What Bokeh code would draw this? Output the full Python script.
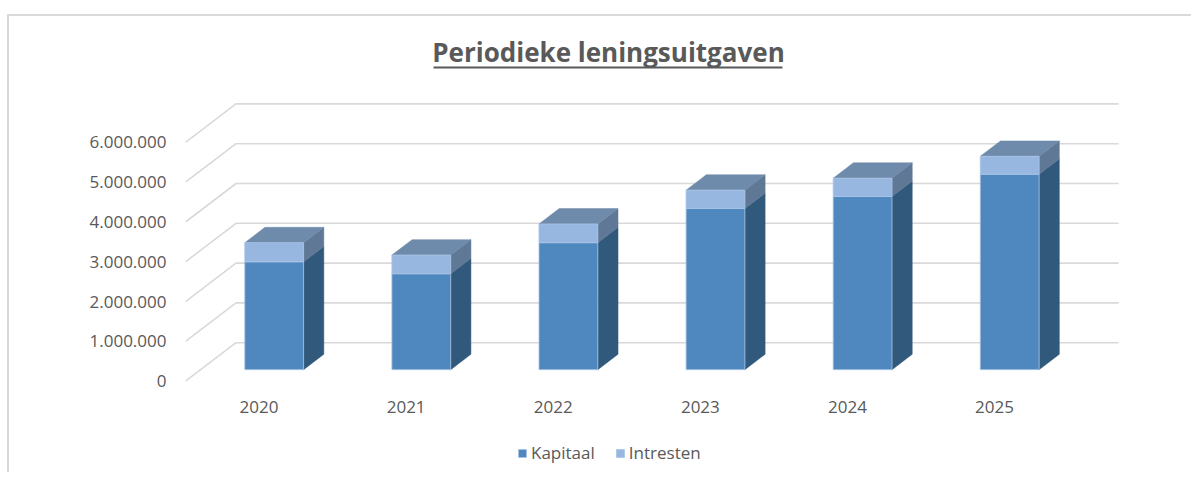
from bokeh.plotting import figure
from bokeh.models import Range1d, FixedTicker, Legend, LegendItem, ColumnDataSource
from bokeh.embed import file_html
from bokeh.resources import INLINE
from bokeh.core.properties import value

# ---------------- data ----------------
years = ["2020", "2021", "2022", "2023", "2024", "2025"]
kapitaal = [2710000, 2410000, 3190000, 4050000, 4350000, 4910000]
intresten = [480000, 470000, 470000, 460000, 460000, 450000]
y_ticks = [0, 1000000, 2000000, 3000000, 4000000, 5000000, 6000000]
series_names = ["Kapitaal", "Intresten"]
title_text = "Periodieke leningsuitgaven"

# ---------------- style ----------------
KAP_FRONT = "#4f88be"
KAP_SIDE = "#30597b"
INT_FRONT = "#97b7e0"
INT_SIDE = "#5f7895"
TOP = "#6f8bab"
EDGE = "#a9c4e6"
GRID = "#d9d9d9"
TEXT = "#595959"
FONT = "Open Sans"

W, H = 1184, 458
FRAME_LEFT = 176
PX_X = 147.1            # px per category slot
PX_Y = 39.8 / 1e6       # px per value unit
ZERO_Y = 364.7          # canvas px of the front zero line
DX = 50.5 / PX_X        # depth offset (x units)
DY = 38.5 / PX_Y        # depth offset (value units)
BAR_W = 0.4
D0, D1 = 0.3, 0.7       # bar depth span (fraction of full depth)

x_end = (W - FRAME_LEFT) / PX_X
y_end = ZERO_Y / PX_Y
y_start = -(H - ZERO_Y) / PX_Y


def cx(px):
    return (px - FRAME_LEFT) / PX_X


def cy(py):
    return (ZERO_Y - py) / PX_Y


p = figure(width=W, height=H, x_range=Range1d(0, x_end), y_range=Range1d(y_start, y_end),
           output_backend="svg", toolbar_location=None, x_axis_location=None,
           min_border_left=FRAME_LEFT, min_border_right=0, min_border_top=0, min_border_bottom=0)
p.outline_line_color = None
p.xgrid.visible = False
p.ygrid.visible = False
p.background_fill_color = "white"
p.border_fill_color = "white"
p.styles = {"margin-top": "14px", "margin-left": "7px",
            "border-top": "2px solid #d9d9d9", "border-left": "2px solid #d9d9d9"}

ax = p.yaxis[0]
ax.ticker = FixedTicker(ticks=y_ticks)
ax.major_label_overrides = {v: f"{v:,}".replace(",", ".") for v in y_ticks}
ax.axis_line_color = None
ax.major_tick_line_color = None
ax.minor_tick_line_color = None
ax.major_tick_out = 0
ax.major_tick_in = 0
ax.major_label_standoff = 19
ax.major_label_text_font = FONT
ax.major_label_text_font_size = "17px"
ax.major_label_text_color = TEXT

n = len(years)

# back wall + side wall gridlines
gx, gy = [], []
for v in y_ticks:
    gx.append([0, DX, n + DX])
    gy.append([v, v + DY, v + DY])
p.multi_line(xs=gx, ys=gy, line_color=GRID, line_width=1.6)

# bars
xl = [i + (1 - BAR_W) / 2 for i in range(n)]
xr = [x + BAR_W for x in xl]
tot = [k + t for k, t in zip(kapitaal, intresten)]
ox0, oy0 = D0 * DX, D0 * DY
ox1, oy1 = D1 * DX, D1 * DY

kap_side_x, kap_side_y, int_side_x, int_side_y, top_x, top_y = [], [], [], [], [], []
for i in range(n):
    a, b = xr[i] + ox0, xr[i] + ox1
    kap_side_x.append([a, b, b, a])
    kap_side_y.append([oy0, oy1, kapitaal[i] + oy1, kapitaal[i] + oy0])
    int_side_x.append([a, b, b, a])
    int_side_y.append([kapitaal[i] + oy0, kapitaal[i] + oy1, tot[i] + oy1, tot[i] + oy0])
    top_x.append([xl[i] + ox0, xr[i] + ox0, xr[i] + ox1, xl[i] + ox1])
    top_y.append([tot[i] + oy0, tot[i] + oy0, tot[i] + oy1, tot[i] + oy1])

p.patches(xs=kap_side_x, ys=kap_side_y, fill_color=KAP_SIDE, line_color=KAP_SIDE, line_width=0.5)
p.patches(xs=int_side_x, ys=int_side_y, fill_color=INT_SIDE, line_color=INT_SIDE, line_width=0.5)
p.patches(xs=top_x, ys=top_y, fill_color=TOP, line_color=TOP, line_width=0.5)

src = ColumnDataSource(dict(
    left=[x + ox0 for x in xl], right=[x + ox0 for x in xr],
    kb=[oy0] * n, kt=[k + oy0 for k in kapitaal],
    it=[t + oy0 for t in tot],
))
r_kap = p.quad(left="left", right="right", bottom="kb", top="kt", source=src,
               fill_color=KAP_FRONT, line_color=EDGE, line_width=0.8)
r_int = p.quad(left="left", right="right", bottom="kt", top="it", source=src,
               fill_color=INT_FRONT, line_color=EDGE, line_width=0.8)

# category labels (front plane)
p.text(x=[i + 0.5 for i in range(n)], y=[cy(390.7)] * n, text=years,
       text_align="center", text_baseline="middle", text_font=value(FONT),
       text_font_size="17px", text_color=TEXT)

# title + underline
p.text(x=[cx(599)], y=[cy(35.5)], text=[title_text], text_align="center",
       text_baseline="middle", text_font=value(FONT), text_font_size="26px",
       text_font_style="bold", text_color=TEXT)
p.segment(x0=[cx(424)], y0=[cy(51)], x1=[cx(773)], y1=[cy(51)], line_color=TEXT, line_width=2)

legend = Legend(items=[LegendItem(label=series_names[0], renderers=[r_kap]),
                       LegendItem(label=series_names[1], renderers=[r_int])],
                location=(332, 10), orientation="horizontal", glyph_width=10, glyph_height=10,
                label_standoff=4, spacing=20, padding=0, margin=0,
                border_line_color=None, background_fill_alpha=0,
                label_text_font=FONT, label_text_font_size="17px", label_text_color=TEXT)
p.add_layout(legend, "center")

open("out.html", "w").write(file_html(p, INLINE))
